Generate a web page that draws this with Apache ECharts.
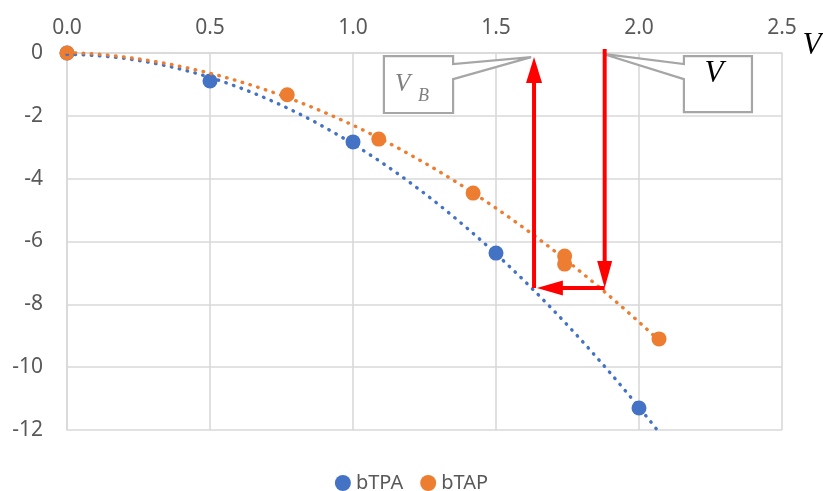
<!DOCTYPE html>
<html>
<head>
<meta charset="utf-8">
<script src="https://cdn.jsdelivr.net/npm/echarts@6/dist/echarts.min.js"></script>
<style>
  html, body { margin: 0; padding: 0; background: #ffffff; }
  #chart { width: 823px; height: 491px; }
</style>
</head>
<body>
<div id="chart"></div>
<script>
// Measured samples for the two series
const tpaX = [0, 0.5, 1.0, 1.5, 2.0];
const tpaY = [0, -0.89, -2.83, -6.37, -11.3];
const tapX = [0, 0.77, 1.09, 1.42, 1.74, 1.74, 2.07];
const tapY = [0, -1.33, -2.74, -4.46, -6.46, -6.72, -9.1];

// Axis ticks
const xTicks = [0, 0.5, 1.0, 1.5, 2.0, 2.5];
const yTicks = [0, -2, -4, -6, -8, -10, -12];

// Extent of each polynomial trend line along x
const tpaTrendRange = [0, 2.06];
const tapTrendRange = [0, 2.07];

// Construction: V on bTAP, same level on bTPA gives V_B
const vValue = 1.88;
const vbValue = 1.633;
const levelY = -7.48;

const BLUE = '#4472C4';
const ORANGE = '#ED7D31';
const RED = '#FF0000';
const GRID = '#d9d9d9';
const LABEL = '#595959';

// Least-squares quadratic y = c0 + c1 x + c2 x^2
function quadFit(xs, ys) {
  const A = [[0, 0, 0], [0, 0, 0], [0, 0, 0]];
  const b = [0, 0, 0];
  for (let n = 0; n < xs.length; n++) {
    const p = [1, xs[n], xs[n] * xs[n]];
    for (let i = 0; i < 3; i++) {
      b[i] += p[i] * ys[n];
      for (let j = 0; j < 3; j++) A[i][j] += p[i] * p[j];
    }
  }
  // Gaussian elimination
  for (let i = 0; i < 3; i++) {
    let piv = i;
    for (let r = i + 1; r < 3; r++) if (Math.abs(A[r][i]) > Math.abs(A[piv][i])) piv = r;
    [A[i], A[piv]] = [A[piv], A[i]];
    [b[i], b[piv]] = [b[piv], b[i]];
    for (let r = i + 1; r < 3; r++) {
      const f = A[r][i] / A[i][i];
      for (let c = i; c < 3; c++) A[r][c] -= f * A[i][c];
      b[r] -= f * b[i];
    }
  }
  const c = [0, 0, 0];
  for (let i = 2; i >= 0; i--) {
    let s = b[i];
    for (let j = i + 1; j < 3; j++) s -= A[i][j] * c[j];
    c[i] = s / A[i][i];
  }
  return c;
}

function trendPoints(xs, ys, range) {
  const c = quadFit(xs, ys);
  const pts = [];
  const steps = 200;
  for (let k = 0; k <= steps; k++) {
    const x = range[0] + (range[1] - range[0]) * k / steps;
    pts.push([x, c[0] + c[1] * x + c[2] * x * x]);
  }
  return pts;
}

const zip = (xs, ys) => xs.map((x, i) => [x, ys[i]]);

const chart = echarts.init(document.getElementById('chart'), null, { renderer: 'canvas' });

const labelFont = { fontFamily: 'Noto Sans', fontSize: 21, color: LABEL };
const dotted = (color) => ({ color: color, width: 3.4, type: [0.5, 7.6], cap: 'round', opacity: 1 });

chart.setOption({
  animation: false,
  backgroundColor: '#ffffff',
  grid: { left: 67, right: 41, top: 53, bottom: 61, containLabel: false },
  xAxis: {
    type: 'value',
    position: 'top',
    min: xTicks[0],
    max: xTicks[xTicks.length - 1],
    interval: xTicks[1] - xTicks[0],
    axisLine: { show: true, onZero: false, lineStyle: { color: GRID, width: 1.6 } },
    axisTick: { show: false },
    axisLabel: Object.assign({ margin: 14, formatter: (v) => v.toFixed(1) }, labelFont),
    splitLine: { show: true, lineStyle: { color: GRID, width: 1.6 } }
  },
  yAxis: {
    type: 'value',
    min: yTicks[yTicks.length - 1],
    max: yTicks[0],
    interval: yTicks[0] - yTicks[1],
    axisLine: { show: true, onZero: false, lineStyle: { color: GRID, width: 1.6 } },
    axisTick: { show: false },
    axisLabel: Object.assign({ margin: 24 }, labelFont),
    splitLine: { show: true, lineStyle: { color: GRID, width: 1.6 } }
  },
  legend: {
    data: ['bTPA', 'bTAP'],
    left: 'center',
    top: 468,
    icon: 'circle',
    itemWidth: 16,
    itemHeight: 16,
    itemGap: 17,
    itemStyle: { borderWidth: 0, opacity: 1 },
    textStyle: { fontFamily: 'Noto Sans', fontSize: 20, color: LABEL }
  },
  series: [
    {
      name: 'bTPA', type: 'scatter', data: zip(tpaX, tpaY),
      symbolSize: 15, itemStyle: { color: BLUE, opacity: 1 }, z: 2
    },
    {
      name: 'bTAP', type: 'scatter', data: zip(tapX, tapY),
      symbolSize: 15, itemStyle: { color: ORANGE, opacity: 1 }, z: 2
    },
    {
      name: 'bTPA trend', type: 'line', data: trendPoints(tpaX, tpaY, tpaTrendRange),
      showSymbol: false, silent: true, clip: true, lineStyle: dotted(BLUE), z: 3
    },
    {
      name: 'bTAP trend', type: 'line', data: trendPoints(tapX, tapY, tapTrendRange),
      showSymbol: false, silent: true, clip: true, lineStyle: dotted(ORANGE), z: 3
    }
  ]
});

// ----- Annotations: arrows, callouts and axis name -----
const px = (x, y) => chart.convertToPixel({ gridIndex: 0 }, [x, y]);

function arrow(from, to, headLen, headW) {
  const a = px(from[0], from[1]);
  const b = px(to[0], to[1]);
  const dx = b[0] - a[0], dy = b[1] - a[1];
  const len = Math.hypot(dx, dy);
  const ux = dx / len, uy = dy / len;
  const base = [b[0] - ux * headLen, b[1] - uy * headLen];
  const nx = -uy, ny = ux;
  return [
    {
      type: 'line', z: 50, silent: true,
      shape: { x1: a[0], y1: a[1], x2: base[0] + ux * 1, y2: base[1] + uy * 1 },
      style: { stroke: RED, lineWidth: 4 }
    },
    {
      type: 'polygon', z: 50, silent: true,
      shape: { points: [b, [base[0] + nx * headW / 2, base[1] + ny * headW / 2], [base[0] - nx * headW / 2, base[1] - ny * headW / 2]] },
      style: { fill: RED }
    }
  ];
}

// Callout box: [xLeft, xRight] and [yTop, yBottom] in data units,
// pointer attached on one side between two y values, tip at a data point
function callout(xr, yr, attach, tip, side) {
  const tl = px(xr[0], yr[0]);
  const br = px(xr[1], yr[1]);
  const a1 = px(0, attach[0])[1];
  const a2 = px(0, attach[1])[1];
  const t = px(tip[0], tip[1]);
  const x0 = tl[0], y0 = tl[1], x1 = br[0], y1 = br[1];
  let pts;
  if (side === 'right') {
    pts = [[x0, y0], [x1, y0], [x1, a1], t, [x1, a2], [x1, y1], [x0, y1]];
  } else {
    pts = [[x0, y0], [x1, y0], [x1, y1], [x0, y1], [x0, a2], t, [x0, a1]];
  }
  return {
    type: 'polygon', z: 40, silent: true,
    shape: { points: pts },
    style: { fill: '#ffffff', stroke: '#a6a6a6', lineWidth: 2.2, lineJoin: 'miter' }
  };
}

const serifItalic = (size) => 'italic ' + size + 'px "Liberation Serif", "DejaVu Serif", serif';

function drawAnnotations() {
  const els = [];
  // down from V to bTAP, across to bTPA, up to V_B
  els.push(...arrow([vValue, 0.13], [vValue, levelY], 27, 15));
  els.push(...arrow([vValue, levelY], [vbValue + 0.01, levelY], 26, 15));
  els.push(...arrow([vbValue, levelY], [vbValue, -0.13], 26, 16));

  els.push(callout([1.108, 1.35], [-0.1, -1.91], [-0.35, -0.83], [vbValue - 0.01, -0.13], 'right'));
  els.push(callout([2.157, 2.395], [-0.1, -1.88], [-0.35, -0.83], [vValue - 0.005, -0.03], 'left'));

  const vbBox = px(1.108, -0.1);
  els.push({
    type: 'text', z: 45, silent: true,
    style: { x: vbBox[0] + 11, y: vbBox[1] + 28, text: 'V', font: serifItalic(25), fill: '#7f7f7f', textVerticalAlign: 'middle' }
  });
  els.push({
    type: 'text', z: 45, silent: true,
    style: { x: vbBox[0] + 34, y: vbBox[1] + 40, text: 'B', font: serifItalic(18), fill: '#7f7f7f', textVerticalAlign: 'middle' }
  });

  const vBox = px(2.157, -0.1);
  els.push({
    type: 'text', z: 45, silent: true,
    style: { x: vBox[0] + 30, y: vBox[1] + 18, text: 'V', font: serifItalic(31), fill: '#000000', textAlign: 'center', textVerticalAlign: 'middle' }
  });

  const axEnd = px(2.5, 0);
  els.push({
    type: 'text', z: 45, silent: true,
    style: { x: axEnd[0] + 30, y: axEnd[1] - 7, text: 'V', font: serifItalic(31), fill: '#000000', textAlign: 'center', textVerticalAlign: 'middle' }
  });

  chart.setOption({ graphic: { elements: els } });
}

drawAnnotations();
</script>
</body>
</html>
